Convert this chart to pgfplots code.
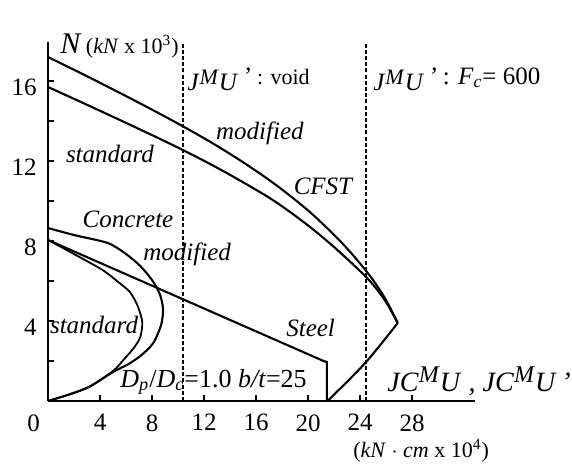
\documentclass[border=0pt]{standalone}
\usepackage{fontspec}
\setmainfont{Liberation Serif}
\usepackage{pgfplots}
\pgfplotsset{compat=1.18}

% J M_U style moment symbols
\newcommand{\JMU}{\raisebox{-3pt}{\textit{J}}\textit{\fontsize{11}{13}\selectfont M}\raisebox{-3pt}{\textit{U}}\,\textit{'}}
\newcommand{\JCMU}{\textit{JC}\raisebox{4.5pt}{\textit{\fontsize{12}{14}\selectfont M}}\textit{U}}

\begin{document}
\fontsize{12.5}{15}\selectfont
\begin{tikzpicture}
\useasboundingbox (-24pt,-31pt) rectangle (262pt,200.5pt);
\begin{axis}[
  anchor=origin, at={(0,0)},
  x=6.5pt, y=10pt,
  xmin=0, xmax=32.85, ymin=0, ymax=17.95,
  axis lines=left,
  axis line style={-, line width=1.4pt},
  clip=false,
  tick align=inside,
  major tick length=3pt, minor tick length=3pt,
  every tick/.style={black, line width=0.8pt},
  xtick={4,8,...,28},
  ytick={4,8,12,16},
  minor ytick={2,6,10,14},
  /pgf/number format/assume math mode=true,
  ticklabel style={font=\fontsize{12.5}{15}\selectfont},
  xticklabel style={anchor=north, inner sep=0pt, yshift=-6.5pt},
  yticklabel style={anchor=east, inner sep=0pt, xshift=-5.5pt, yshift=-3pt},
  cycle list={{black, solid, mark=none}},
  every axis plot/.append style={black, line width=1.05pt, mark=none},
]

% limits of the moment capacity
\addplot[line width=0.75pt, dash pattern=on 2pt off 1.1pt] coordinates {(10.4,0) (10.4,17.9)};
\addplot[line width=0.75pt, dash pattern=on 2pt off 1.1pt] coordinates {(24.45,0) (24.45,17.9)};

% CFST, modified
\addplot[smooth, tension=0.55] coordinates {
  (0,17.2) (2.5,16.4) (5,15.58) (7.5,14.74) (10,13.87) (12.5,12.95)
  (15,11.94) (17.5,10.82) (20,9.53) (22,8.31) (23,7.63) (24,6.88)
  (25,6.05) (26,5.05) (26.9,3.9)};
% CFST, standard
\addplot[smooth, tension=0.55] coordinates {
  (0,15.7) (2.5,14.96) (5,14.21) (7.5,13.45) (10,12.67) (12.5,11.84)
  (15,10.94) (17.5,9.96) (20,8.78) (22,7.7) (24,6.5) (25,5.82)
  (26,4.95) (26.9,3.9)};
% CFST, lower branch
\addplot[smooth, tension=0.5] coordinates {(26.9,3.9) (24.4,1.9) (21.5,0)};

% Steel
\addplot[sharp plot] coordinates {(0,8.05) (21.2,2.0) (21.45,1.95) (21.45,0)};

% Concrete, modified
\addplot[smooth, tension=0.45] coordinates {
  (0,8.65) (2,8.3) (4.6,7.9) (6,7.35) (7.1,6.75) (8.0,6.05) (8.6,5.35)
  (8.85,4.6) (8.7,3.8) (8.1,2.9) (7.2,2.3) (6.2,1.85) (5.0,1.45)
  (3.2,0.72) (1.6,0.32) (0,0)};
% Concrete, standard
\addplot[smooth, tension=0.45, line width=0.9pt] coordinates {
  (0,8.05) (2,7.35) (4.2,6.55) (5.4,5.95) (6.3,5.45) (6.9,4.75)
  (7.25,3.95) (7.1,3.2) (6.6,2.65) (5.8,2.05) (5.0,1.5)
  (3.2,0.72) (1.6,0.32) (0,0)};

% curve labels
\node[font=\itshape] at (axis cs:16.3,13.4) {modified};
\node[font=\itshape] at (axis cs:21.15,10.75) {CFST};
\node[font=\itshape] at (axis cs:4.77,12.35) {standard};
\node[font=\itshape] at (axis cs:6.15,9.1) {Concrete};
\node[font=\itshape] at (axis cs:10.7,7.35) {modified};
\node[font=\itshape] at (axis cs:3.54,3.8) {standard};
\node[font=\itshape] at (axis cs:20.2,3.65) {Steel};

\node[anchor=base west, inner sep=0pt, font=\fontsize{13}{16}\selectfont]
  at (axis cs:5.54,0.7)
  {\textit{D}\textsubscript{\textit{p}}/\textit{D}\textsubscript{\textit{c}}=1.0 \textit{b/t}=25};

% axis titles
\node[anchor=base west, inner sep=0pt] at (axis cs:0.92,17.4)
  {\textit{\fontsize{15}{17}\selectfont N}\,{\fontsize{11}{13}\selectfont(\textit{kN} x 10\textsuperscript{3})}};
\node[anchor=base west, inner sep=0pt, font=\fontsize{14}{16}\selectfont] at (axis cs:26.08,0.5)
  {\JCMU\ ,\ \JCMU\,\textit{'}};
\node[inner sep=0pt, font=\fontsize{11}{13}\selectfont] at (axis cs:28.7,-2.5)
  {(\textit{kN} $\cdot$ \textit{cm} x 10\textsuperscript{4})};
\node[inner sep=0pt] at (axis cs:-1.115,-1.1) {0};

% capacity line labels
\node[anchor=base west, inner sep=0pt] at (axis cs:10.7,15.85)
  {\JMU\ {\fontsize{11}{13}\selectfont: void}};
\node[anchor=base west, inner sep=0pt] at (axis cs:25.0,15.85)
  {\JMU\ : \textit{F}\textsubscript{\textit{c}}= 600};
\end{axis}
\end{tikzpicture}
\end{document}
